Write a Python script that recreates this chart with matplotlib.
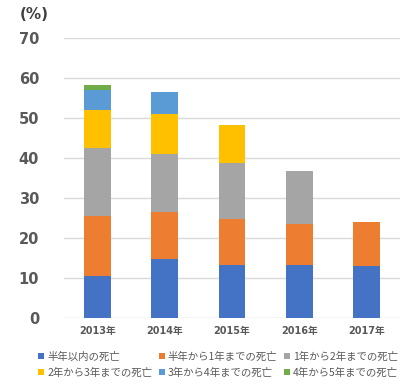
import matplotlib
matplotlib.use('Agg')
import matplotlib.pyplot as plt
import numpy as np

plt.rcParams['font.family'] = ['Noto Sans CJK JP', 'DejaVu Sans']

# データ (%)
years = ['2013年', '2014年', '2015年', '2016年', '2017年']
labels = ['半年以内の死亡', '半年から1年までの死亡', '1年から2年までの死亡',
          '2年から3年までの死亡', '3年から4年までの死亡', '4年から5年までの死亡']
within_half = [10.4, 14.8, 13.2, 13.3, 12.9]
half_to_1 = [15.2, 11.8, 11.5, 10.3, 11.1]
y1_to_2 = [17.0, 14.3, 14.0, 13.1, 0]
y2_to_3 = [9.3, 10.1, 9.6, 0, 0]
y3_to_4 = [5.1, 5.6, 0, 0, 0]
y4_to_5 = [1.2, 0, 0, 0, 0]
colors = ['#4472C4', '#ED7D31', '#A5A5A5', '#FFC000', '#5B9BD5', '#70AD47']

series = [within_half, half_to_1, y1_to_2, y2_to_3, y3_to_4, y4_to_5]

fig = plt.figure(figsize=(4.0, 3.87), dpi=100)
ax = fig.add_axes([0.16, 0.178, 0.84, 0.724])

x = np.arange(len(years))
bottom = np.zeros(len(years))
handles = []
for vals, lab, col in zip(series, labels, colors):
    vals = np.array(vals)
    h = ax.bar(x, vals, 0.4, bottom=bottom, color=col, label=lab, zorder=3)
    handles.append(h)
    bottom += vals

ax.set_xlim(-0.5, 4.5)
ax.set_ylim(0, 70)
ax.set_yticks(range(0, 71, 10))
ax.yaxis.grid(True, color='#D9D9D9', linewidth=1, zorder=0)
for s in ax.spines.values():
    s.set_visible(False)
ax.tick_params(axis='both', length=0)
ax.tick_params(axis='y', pad=18, labelsize=10.5, labelcolor='#595959')
ax.tick_params(axis='x', pad=6, labelsize=7, labelcolor='#595959')
ax.set_xticks(x)
ax.set_xticklabels(years, fontweight='bold', family=['DejaVu Sans', 'Noto Sans CJK JP'])
for t in ax.get_yticklabels():
    t.set_fontweight('bold')
    t.set_family('DejaVu Sans')

fig.text(0.05, 0.962, '(%)', fontsize=11, fontweight='bold', color='#404040',
         va='center', ha='left', family='DejaVu Sans')

# 凡例は行ごとに並べる
order = [0, 3, 1, 4, 2, 5]
fig.legend([handles[i] for i in order], [labels[i] for i in order],
           loc='lower center', bbox_to_anchor=(0.545, 0.0), ncol=3,
           frameon=False, fontsize=7.5, labelcolor='#595959',
           handlelength=0.6, handleheight=0.6, handletextpad=0.3,
           columnspacing=0.6, labelspacing=0.55)

plt.savefig('out.png', dpi=100)
plt.close()
